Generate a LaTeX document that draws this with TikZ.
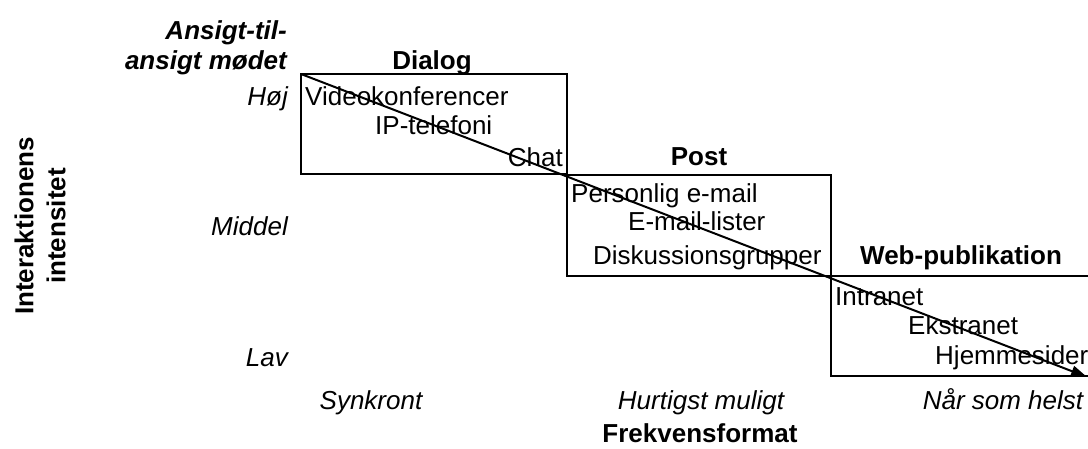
\documentclass[tikz,border=0pt]{standalone}
\usepackage{fontspec}
\setmainfont{Liberation Sans}
\usetikzlibrary{arrows.meta}
\begin{document}
\begin{tikzpicture}[x=1pt,y=-1pt,
  lbl/.style={inner sep=0pt, font=\fontsize{26}{32}\selectfont},
  ital/.style={inner sep=0pt, font=\fontsize{26}{32}\selectfont\itshape},
  bld/.style={inner sep=0pt, font=\fontsize{26}{32}\selectfont\bfseries},
  bldit/.style={inner sep=0pt, font=\fontsize{26}{32}\selectfont\bfseries\itshape},
  boxline/.style={line width=2pt},
  trend/.style={line width=2pt, -{Triangle[length=16pt,width=11pt]}},
]
\useasboundingbox (0,0) rectangle (1088,448);
% boxes
\draw[boxline] (301,74) rectangle (567,174);
\draw[boxline] (567,175) rectangle (831,276);
\draw[boxline] (831,276) rectangle (1100,376);
% corner-based coordinates for the trend arrow
\coordinate (start) at (301,74);
\coordinate (end) at (1087,377);
% axis labels
\node[bldit, anchor=base east] (a1) at (287,39) {Ansigt-til-};
\node[bldit, anchor=base east] (a2) at (287,69) {ansigt mødet};
\node[ital, anchor=base east] (hoj) at (288,105) {Høj};
\node[ital, anchor=base east] (middel) at (288,235) {Middel};
\node[ital, anchor=base east] (lav) at (288,366) {Lav};
\node[bld, rotate=90, align=center] (yaxis) at (40,226) {Interaktionens\\intensitet};
\node[ital, anchor=base] (synk) at (371,409) {Synkront};
\node[ital, anchor=base] (hurt) at (701,409) {Hurtigst muligt};
\node[ital, anchor=base] (naar) at (1003,409) {Når som helst};
\node[bld, anchor=base] (xaxis) at (700,442) {Frekvensformat};
% group titles
\node[bld, anchor=base] (dialog) at (432,69) {Dialog};
\node[bld, anchor=base] (post) at (699,165) {Post};
\node[bld, anchor=base west] (web) at (860,264) {Web-publikation};
% items
\node[lbl, anchor=base west] (video) at (305,105) {Videokonferencer};
\node[lbl, anchor=base west] (ip) at (375,134) {IP-telefoni};
\node[lbl, anchor=base east] (chat) at (563,166) {Chat};
\node[lbl, anchor=base west] (pers) at (571,202) {Personlig e-mail};
\node[lbl, anchor=base west] (lister) at (628,230) {E-mail-lister};
\node[lbl, anchor=base west] (disk) at (593,264) {Diskussionsgrupper};
\node[lbl, anchor=base west] (intra) at (835,305) {Intranet};
\node[lbl, anchor=base west] (ekstra) at (908,334) {Ekstranet};
\node[lbl, anchor=base west] (hjem) at (935,364) {Hjemmesider};
% trend arrow
\draw[trend] (start) -- (end);
\end{tikzpicture}
\end{document}
